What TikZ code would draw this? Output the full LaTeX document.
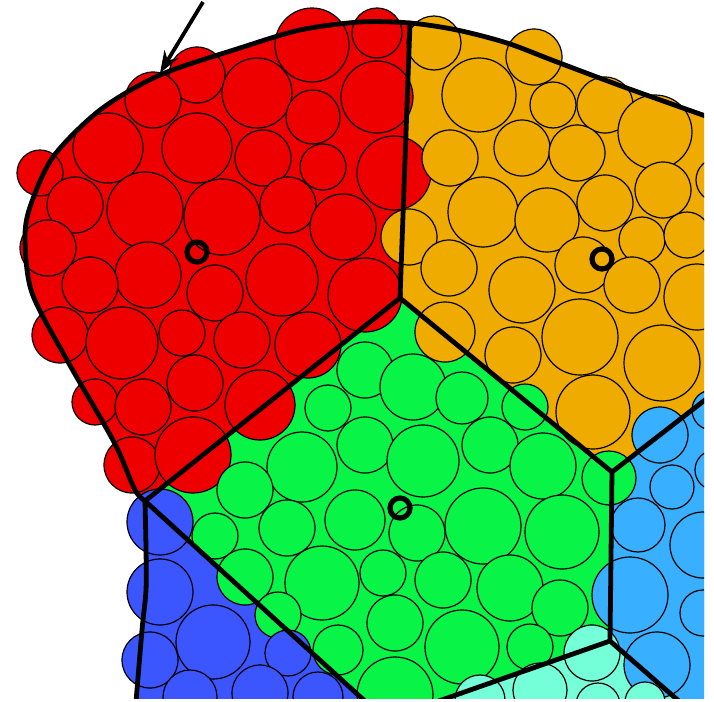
\documentclass[tikz,border=0pt]{standalone}
\usepackage{tikz}
\usetikzlibrary{arrows.meta}
\definecolor{cellred}{HTML}{EE0000}
\definecolor{cellorange}{HTML}{F0AB00}
\definecolor{cellgreen}{HTML}{08F548}
\definecolor{cellblue}{HTML}{3B55FF}
\definecolor{cellsky}{HTML}{38AFFF}
\definecolor{cellaqua}{HTML}{74FFD9}

\begin{document}
\begin{tikzpicture}[x=0.5pt,y=-0.5pt,
  grain/.style={draw=black,line width=0.6pt},
  rim/.style={draw=black,line width=2.4pt,line join=round,line cap=round},
  hub/.style={draw=black,line width=2.6pt},
  pointer/.style={-{Stealth[length=11pt,width=8pt]},line width=1.9pt,draw=black}
]
\useasboundingbox (0,0) rectangle (714,702);
\fill[white] (0,0) rectangle (714,702);

% cell corners
\coordinate (top) at (410,23);
\coordinate (rgb) at (145,501);
\coordinate (rog) at (400,298);
\coordinate (gos) at (612,472);
\coordinate (osr) at (714,393);
\coordinate (gsa) at (610,641);
\coordinate (gbb) at (366,702);
\coordinate (gab) at (436,702);
\coordinate (sab) at (680,702);

\begin{scope}
\clip (0,0) rectangle (704,698);

% cell fills inside the rim
\begin{scope}
  \clip plot[smooth] coordinates {(714,119) (624,87) (557,62) (507,43) (457,30)
      (410,23) (360,22) (300,30) (240,48) (160,75) (100,110) (53,157) (30,207)
      (25,240) (32,293) (67,360) (100,417) (118,450) (135,490) (145,501)}
    -- plot[smooth] coordinates {(145,501) (146,548) (146,590) (142,630) (136,702)}
    -- (714,702) -- cycle;
  \fill[cellred] (0,0) -- (410,0) -- (top) -- (rog) -- (rgb) -- (0,501) -- cycle;
  \fill[cellorange] (410,0) -- (714,0) -- (osr) -- (gos) -- (rog) -- (top) -- cycle;
  \fill[cellgreen] (rgb) -- (rog) -- (gos) -- (gsa) -- (gab) -- (gbb) -- cycle;
  \fill[cellblue] (rgb) -- (gbb) -- (0,702) -- (0,501) -- cycle;
  \fill[cellsky] (gos) -- (osr) -- (714,702) -- (sab) -- (gsa) -- cycle;
  \fill[cellaqua] (gab) -- (gsa) -- (sab) -- cycle;
\end{scope}

% grains
\foreach \x/\y/\r in {312/45/37, 377/33/25, 377/97/36, 197/75/28, 153/100/28,
    257/93/35, 313/117/27, 108/148/35, 197/148/35, 263/158/28, 323/167/23,
    40/173/23, 394/173/37, 75/205/28, 145/210/38, 222/217/38, 288/205/28,
    343/227/33, 48/248/28, 148/275/33, 90/285/28, 215/293/28, 282/280/36,
    365/295/37, 60/335/28, 122/343/36, 182/333/23, 242/340/28, 308/345/33,
    95/402/23, 143/407/28, 195/383/28, 260/405/35, 132/465/28, 193/455/38}
  \filldraw[grain,fill=cellred] (\x,\y) circle[radius=\r];
\foreach \x/\y/\r in {434/43/27, 534/57/28, 479/95/37, 553/105/23, 605/105/28,
    655/132/37, 718/180/22, 450/158/28, 522/148/28, 577/153/28, 663/190/28,
    483/212/35, 547/220/32, 605/203/28, 642/240/23, 687/235/23, 409/237/28,
    449/268/28, 522/290/33, 583/265/28, 632/285/28, 697/297/33, 445/332/30,
    513/355/28, 580/337/38, 662/363/38, 593/412/37}
  \filldraw[grain,fill=cellorange] (\x,\y) circle[radius=\r];
\foreach \x/\y/\r in {365/370/28, 413/387/33, 462/398/26, 525/407/23, 328/408/23,
    365/445/28, 423/461/36, 490/445/28, 543/466/33, 609/478/27, 302/467/35,
    245/490/28, 355/520/30, 287/528/28, 215/536/23, 417/533/28, 483/526/38,
    562/532/37, 245/577/28, 322/583/37, 383/573/23, 443/580/28, 510/588/33,
    560/608/28, 278/615/23, 395/623/28, 462/647/37, 530/647/23, 338/650/25,
    395/695/38}
  \filldraw[grain,fill=cellgreen] (\x,\y) circle[radius=\r];
\foreach \x/\y/\r in {160/522/33, 160/592/33, 213/642/37, 150/660/28, 288/653/23,
    190/697/27, 260/693/28, 318/697/25}
  \filldraw[grain,fill=cellblue] (\x,\y) circle[radius=\r];
\foreach \x/\y/\r in {660/435/28, 712/410/20, 672/487/22, 638/525/27, 703/545/33,
    630/595/38, 703/613/23, 657/665/33, 715/470/20}
  \filldraw[grain,fill=cellsky] (\x,\y) circle[radius=\r];
\foreach \x/\y/\r in {592/653/28, 540/690/27, 480/700/25, 598/705/22, 645/702/20}
  \filldraw[grain,fill=cellaqua] (\x,\y) circle[radius=\r];

% cell walls
\draw[rim] plot[smooth] coordinates {(714,119) (624,87) (557,62) (507,43) (457,30)
    (410,23) (360,22) (300,30) (240,48) (160,75) (100,110) (53,157) (30,207)
    (25,240) (32,293) (67,360) (100,417) (118,450) (135,490) (145,501)}
  -- plot[smooth] coordinates {(145,501) (146,548) (146,590) (142,630) (136,702)};
\draw[rim] (rgb) -- (rog) -- (top);
\draw[rim] (rog) -- (gos) -- (osr);
\draw[rim] (rgb) -- (gbb);
\draw[rim] (gos) -- (gsa) -- (gab);
\draw[rim] (gsa) -- (sab);
\end{scope}

% cell centres
\draw[hub] (197,252) circle[radius=10];
\draw[hub] (602,259) circle[radius=10];
\draw[hub] (400,508) circle[radius=10];

\coordinate (tail) at (203,2);
\coordinate (tip) at (160,73);
\draw[pointer] (tail) -- (tip);
\end{tikzpicture}
\end{document}
